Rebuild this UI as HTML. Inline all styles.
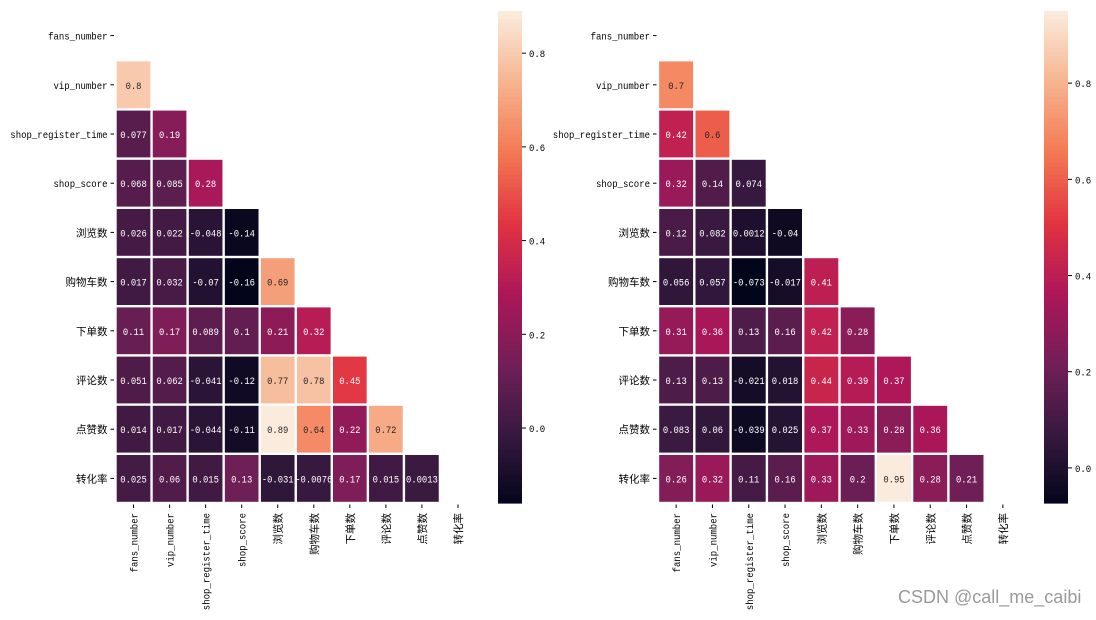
<!DOCTYPE html>
<html><head><meta charset="utf-8"><style>
html,body{margin:0;padding:0;background:#fff;}
svg text{font-family:"Liberation Mono","WenQuanYi Zen Hei",monospace;}
</style></head><body>
<svg id="fig" width="1096" height="615" xmlns="http://www.w3.org/2000/svg"></svg>
<script>
const labels=["fans_number","vip_number","shop_register_time","shop_score","浏览数","购物车数","下单数","评论数","点赞数","转化率"];
const leftVals=[[],[0.8],[0.077,0.19],[0.068,0.085,0.28],[0.026,0.022,-0.048,-0.14],[0.017,0.032,-0.07,-0.16,0.69],[0.11,0.17,0.089,0.1,0.21,0.32],[0.051,0.062,-0.041,-0.12,0.77,0.78,0.45],[0.014,0.017,-0.044,-0.11,0.89,0.64,0.22,0.72],[0.025,0.06,0.015,0.13,-0.031,-0.0076,0.17,0.015,0.0013]];
const rightVals=[[],[0.7],[0.42,0.6],[0.32,0.14,0.074],[0.12,0.082,0.0012,-0.04],[0.056,0.057,-0.073,-0.017,0.41],[0.31,0.36,0.13,0.16,0.42,0.28],[0.13,0.13,-0.021,0.018,0.44,0.39,0.37],[0.083,0.06,-0.039,0.025,0.37,0.33,0.28,0.36],[0.26,0.32,0.11,0.16,0.33,0.2,0.95,0.28,0.21]];
const leftTicks=[0.0,0.2,0.4,0.6,0.8];
const rightTicks=[0.0,0.2,0.4,0.6,0.8];
const leftLabels=["0.0","0.2","0.4","0.6","0.8"];
const rightLabels=["0.0","0.2","0.4","0.6","0.8"];

const NS="http://www.w3.org/2000/svg";
const svg=document.getElementById('fig');
function mk(t,a,p){const e=document.createElementNS(NS,t);for(const k in a)e.setAttribute(k,a[k]);(p||svg).appendChild(e);return e;}
function squeeze(t,s,per){if(/^[\x00-\x7f]*$/.test(s)){t.setAttribute('textLength',(s.length*per).toFixed(1));t.setAttribute('lengthAdjust','spacingAndGlyphs');}}
const stops=[[0,[3,5,26]],[0.14,[53,25,62]],[0.28,[112,31,87]],[0.43,[173,23,89]],[0.57,[225,51,66]],[0.71,[243,118,81]],[0.86,[246,180,143]],[1,[250,235,221]]];
function cmap(t){t=Math.max(0,Math.min(1,t));for(let i=1;i<stops.length;i++){if(t<=stops[i][0]){const a=stops[i-1],b=stops[i];const f=(t-a[0])/(b[0]-a[0]);return a[1].map((v,k)=>Math.round(v+(b[1][k]-v)*f));}}return stops[stops.length-1][1];}
function fmt(v){return String(v);}
function heat(vals,ticks,tlabels,x0,x1,cbx,name){
  const top=11,bot=503,n=labels.length,cw=(x1-x0)/n,rh=(bot-top)/n;
  let mn=Infinity,mx=-Infinity;vals.forEach(r=>r.forEach(v=>{mn=Math.min(mn,v);mx=Math.max(mx,v);}));
  const g=mk('g',{});
  
  
  const xs=i=>x0+i*cw, ys=i=>top+i*rh;
  vals.forEach((r,i)=>r.forEach((v,j)=>{
    const c=cmap((v-mn)/(mx-mn));
    const rect=mk('rect',{x:xs(j)+1.2,y:ys(i)+1.2,width:cw-2.4,height:rh-2.4,fill:`rgb(${c})`},g);
    
    
    const lum=(0.299*c[0]+0.587*c[1]+0.114*c[2])/255;
    const s=fmt(v);
    const t=mk('text',{x:xs(j)+cw/2,y:ys(i)+rh/2+4,'text-anchor':'middle','font-size':'10.5',fill:lum>0.52?'#262626':'#fff'},g);
    t.textContent=s;squeeze(t,s,5.3);
    
    
  }));
  labels.forEach((l,i)=>{
    const y=ys(i)+rh/2;
    mk('line',{x1:x0-5,x2:x0-1.5,y1:y,y2:y,stroke:'#000','stroke-width':1},g);
    const t=mk('text',{x:x0-8,y:y+4,'text-anchor':'end','font-size':'10.5'},g);t.textContent=l;squeeze(t,l,5.4);
    
    
    const x=xs(i)+cw/2;
    mk('line',{x1:x,x2:x,y1:bot+1.5,y2:bot+5,stroke:'#000','stroke-width':1},g);
    const tx=mk('text',{x:0,y:0,'text-anchor':'end','font-size':'10.5',transform:`translate(${x+4},${bot+10}) rotate(-90)`},g);tx.textContent=l;squeeze(tx,l,5.4);
    
    
  });
  const cbw=24,N=120;
  for(let k=0;k<N;k++){const c=cmap(1-k/N);mk('rect',{x:cbx,y:top+k*(bot-top)/N,width:cbw,height:(bot-top)/N+0.6,fill:`rgb(${c})`},g);}
  const cy=v=>top+(mx-v)/(mx-mn)*(bot-top);
  ticks.forEach((v,k)=>{const y=cy(v);
    mk('line',{x1:cbx+cbw,x2:cbx+cbw+4,y1:y,y2:y,stroke:'#000','stroke-width':1},g);
    const t=mk('text',{x:cbx+cbw+7,y:y+4,'font-size':'10.5'},g);t.textContent=tlabels[k];squeeze(t,tlabels[k],5.4);
    
    });
}
heat(leftVals,leftTicks,leftLabels,115.5,476,498,'left-heatmap');
heat(rightVals,rightTicks,rightLabels,658,1021,1044,'right-heatmap');
const wm=mk('text',{x:898,y:603,'font-size':'18',fill:'#9a9a9a',style:'font-family:"Liberation Sans",sans-serif'});
wm.textContent='CSDN @call_me_caibi';


</script>
</body></html>
